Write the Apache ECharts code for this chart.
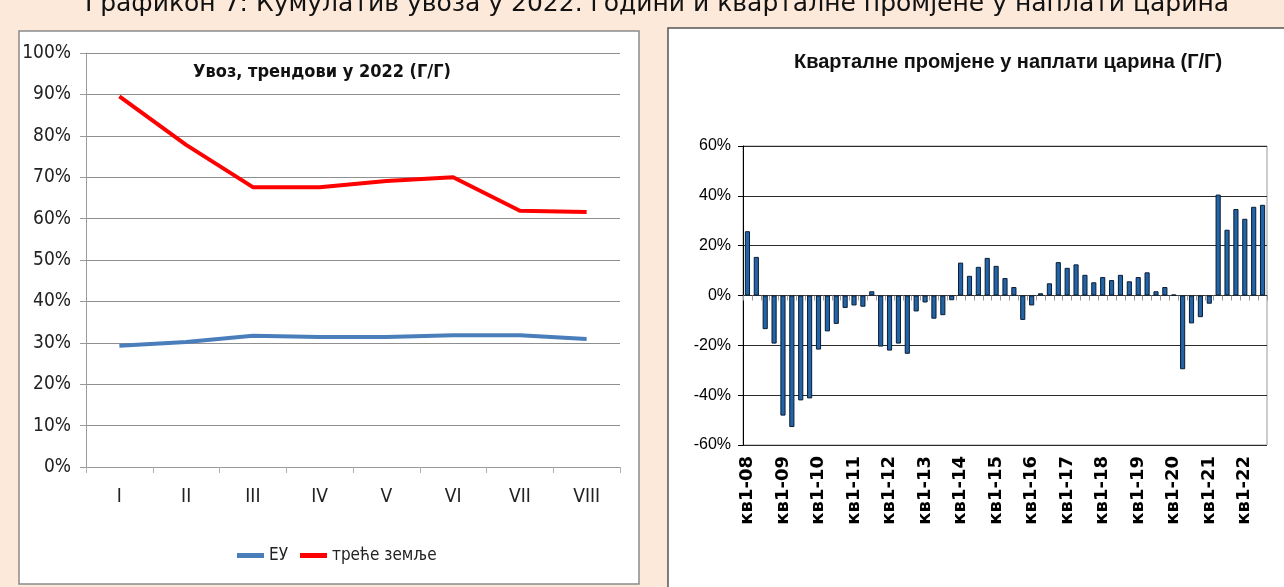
<!DOCTYPE html>
<html>
<head>
<meta charset="utf-8">
<script src="https://cdn.jsdelivr.net/npm/echarts@6/dist/echarts.min.js"></script>
<style>
  html, body { margin: 0; padding: 0; background: #fce9da; }
  #chart { width: 1284px; height: 587px; }
</style>
</head>
<body>
<div id="chart"></div>
<script>
// lijevi grafikon - udio u uvozu, kumulativ po mjesecima
const months = ['I', 'II', 'III', 'IV', 'V', 'VI', 'VII', 'VIII'];
const euShare = [29.3, 30.2, 31.7, 31.4, 31.4, 31.8, 31.8, 30.9];
const thirdShare = [89.5, 77.8, 67.6, 67.6, 69.1, 70.0, 61.9, 61.6];

// desni grafikon - kvartalne promjene u naplati carina (g/g)
const quarters = [
  'кв1-08', 'кв2-08', 'кв3-08', 'кв4-08',
  'кв1-09', 'кв2-09', 'кв3-09', 'кв4-09',
  'кв1-10', 'кв2-10', 'кв3-10', 'кв4-10',
  'кв1-11', 'кв2-11', 'кв3-11', 'кв4-11',
  'кв1-12', 'кв2-12', 'кв3-12', 'кв4-12',
  'кв1-13', 'кв2-13', 'кв3-13', 'кв4-13',
  'кв1-14', 'кв2-14', 'кв3-14', 'кв4-14',
  'кв1-15', 'кв2-15', 'кв3-15', 'кв4-15',
  'кв1-16', 'кв2-16', 'кв3-16', 'кв4-16',
  'кв1-17', 'кв2-17', 'кв3-17', 'кв4-17',
  'кв1-18', 'кв2-18', 'кв3-18', 'кв4-18',
  'кв1-19', 'кв2-19', 'кв3-19', 'кв4-19',
  'кв1-20', 'кв2-20', 'кв3-20', 'кв4-20',
  'кв1-21', 'кв2-21', 'кв3-21', 'кв4-21',
  'кв1-22', 'кв2-22', 'кв3-22'
];
const customsChange = [
  25.8, 15.5, -13.5, -19.3,
  -48.2, -52.8, -42.1, -41.3,
  -21.7, -14.4, -11.4, -5.0,
  -4.0, -4.5, 1.7, -20.5,
  -22.1, -19.3, -23.4, -6.4,
  -2.8, -9.3, -7.9, -1.9,
  13.2, 7.9, 11.5, 15.1,
  11.9, 7.0, 3.4, -9.8,
  -4.0, 0.9, 4.9, 13.4,
  11.1, 12.5, 8.3, 5.3,
  7.4, 6.2, 8.3, 5.7,
  7.4, 9.3, 1.7, 3.4,
  0.4, -29.6, -11.2, -8.7,
  -3.3, 40.5, 26.4, 34.7,
  30.8, 35.6, 36.4
];

const yTicksLeft = { min: 0, max: 100, interval: 10 };
const yTicksRight = { min: -60, max: 60, interval: 20 };

const narrow = "'Liberation Sans Narrow', 'DejaVu Sans Condensed', sans-serif";
const arial = "'Liberation Sans', Arial, sans-serif";

const chart = echarts.init(document.getElementById('chart'));

chart.setOption({
  backgroundColor: '#fce9da',
  animation: false,
  graphic: [
    { // okvir lijevo
      type: 'rect', z: -10,
      shape: { x: 19, y: 31, width: 620, height: 553 },
      style: { fill: '#ffffff', stroke: '#8a8a8a', lineWidth: 1.5 }
    },
    { // okvir desno
      type: 'rect', z: -10,
      shape: { x: 668, y: 28, width: 640, height: 580 },
      style: { fill: '#ffffff', stroke: '#555555', lineWidth: 1.5 }
    },
    {
      type: 'text', x: 657, y: 4, z: 50,
      style: {
        text: 'Графикон 7: Кумулатив увоза у 2022. години и кварталне промјене у наплати царина',
        font: "25px 'DejaVu Sans'", fill: '#111',
        textAlign: 'center', textVerticalAlign: 'middle'
      }
    },
    {
      type: 'text', x: 322, y: 72, z: 50,
      style: {
        text: 'Увоз, трендови у 2022 (Г/Г)',
        font: "bold 18px " + narrow, fill: '#111',
        textAlign: 'center', textVerticalAlign: 'middle'
      }
    },
    {
      type: 'text', x: 1008, y: 62, z: 50,
      style: {
        text: 'Кварталне промјене у наплати царина (Г/Г)',
        font: "bold 20px " + arial, fill: '#111',
        textAlign: 'center', textVerticalAlign: 'middle'
      }
    }
  ],
  legend: {
    left: 232,
    top: 542,
    icon: 'rect',
    itemWidth: 27,
    itemHeight: 5,
    itemGap: 12,
    textStyle: { fontFamily: narrow, fontSize: 17, color: '#222' },
    data: ['ЕУ', 'треће земље']
  },
  grid: [
    { left: 86, top: 53, right: 664, bottom: 120 },
    { left: 743, top: 146, right: 17, bottom: 142, show: true, borderColor: '#9a9a9a', borderWidth: 1, backgroundColor: 'transparent' }
  ],
  xAxis: [
    {
      gridIndex: 0,
      type: 'category',
      data: months,
      axisLine: { lineStyle: { color: '#9a9a9a', width: 1 } },
      axisTick: { show: true, length: 6, interval: 0, lineStyle: { color: '#b0b0b0' } },
      axisLabel: { fontFamily: narrow, fontSize: 19, color: '#222', margin: 21 }
    },
    { // nulta linija s oznakama
      gridIndex: 1,
      type: 'category',
      position: 'bottom',
      data: quarters,
      axisLine: { onZero: true, lineStyle: { color: '#333', width: 1 } },
      axisTick: { show: true, length: 5, interval: 0, lineStyle: { color: '#999' } },
      axisLabel: { show: false }
    },
    { // natpisi kvartala na dnu
      gridIndex: 1,
      type: 'category',
      position: 'bottom',
      data: quarters,
      axisLine: { show: false, onZero: false },
      axisTick: { show: false },
      axisLabel: {
        interval: 3, rotate: 90, margin: 11,
        fontFamily: "'DejaVu Sans', sans-serif", fontWeight: 'bold', fontSize: 18, color: '#000'
      }
    }
  ],
  yAxis: [
    {
      gridIndex: 0,
      type: 'value',
      min: yTicksLeft.min, max: yTicksLeft.max, interval: yTicksLeft.interval,
      axisLine: { show: true, lineStyle: { color: '#9a9a9a' } },
      axisTick: { show: true, length: 6, lineStyle: { color: '#9a9a9a' } },
      axisLabel: { formatter: '{value}%', fontFamily: narrow, fontSize: 19, color: '#222', margin: 15 },
      splitLine: { lineStyle: { color: '#8f8f8f', width: 1.2 } }
    },
    {
      gridIndex: 1,
      type: 'value',
      min: yTicksRight.min, max: yTicksRight.max, interval: yTicksRight.interval,
      axisLine: { show: true, lineStyle: { color: '#000' } },
      axisTick: { show: true, length: 5, lineStyle: { color: '#000' } },
      axisLabel: { formatter: '{value}%', fontFamily: arial, fontSize: 16, color: '#000', margin: 12 },
      splitLine: { lineStyle: { color: '#2b2b2b', width: 1.2 } }
    }
  ],
  series: [
    {
      name: 'ЕУ',
      type: 'line',
      xAxisIndex: 0, yAxisIndex: 0,
      data: euShare,
      symbol: 'none',
      color: '#4a7ebb',
      lineStyle: { width: 4, color: '#4a7ebb' }
    },
    {
      name: 'треће земље',
      type: 'line',
      xAxisIndex: 0, yAxisIndex: 0,
      data: thirdShare,
      symbol: 'none',
      color: '#ff0000',
      lineStyle: { width: 4, color: '#ff0000' }
    },
    {
      name: 'царине',
      type: 'bar',
      xAxisIndex: 1, yAxisIndex: 1,
      data: customsChange,
      barWidth: '58%',
      itemStyle: { color: '#2264a8', borderColor: '#0b1d33', borderWidth: 1 }
    }
  ]
});
</script>
</body>
</html>
